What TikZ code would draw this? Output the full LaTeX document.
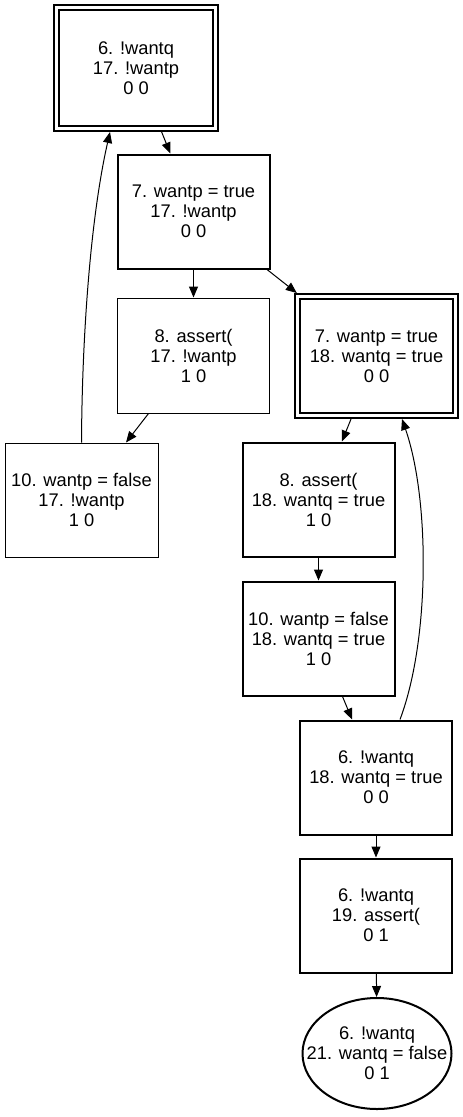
\documentclass[tikz,border=0pt]{standalone}
\usepackage{fontspec}
\setmainfont{Liberation Sans}
\usetikzlibrary{arrows.meta,shapes.geometric}
\begin{document}
\begin{tikzpicture}[x=1pt,y=-1pt,
  box/.style={draw, rectangle, inner sep=0pt, align=center, font=\fontsize{18.3}{20}\selectfont},
  thinbox/.style={box, line width=1pt, minimum width=152pt, minimum height=114pt},
  boldbox/.style={box, line width=2pt, minimum width=152pt, minimum height=114pt},
  dblbox/.style={box, line width=2pt, double, double distance=3pt, outer sep=3.5pt},
  ovalbox/.style={draw, ellipse, line width=2pt, inner xsep=-20pt, inner ysep=0pt, align=center, font=\fontsize{18.3}{20}\selectfont},
  edge/.style={-{Triangle[length=11pt,width=9pt]}, line width=1pt}]
\useasboundingbox (0,0) rectangle (463,1117);

\node[dblbox, minimum width=159pt, minimum height=121pt] (A) at (136,68) {6. !wantq\\17. !wantp\\0 0};
\node[boldbox] (B) at (193.5,211.5) {7. wantp = true\\17. !wantp\\0 0};
\node[thinbox, minimum height=115pt] (C) at (193.5,355.5) {8. assert(\\17. !wantp\\1 0};
\node[thinbox, minimum width=153pt] (D) at (81.5,500) {10. wantp = false\\17. !wantp\\1 0};
\node[dblbox, minimum width=158pt, minimum height=119pt] (E) at (376.5,356) {7. wantp = true\\18. wantq = true\\0 0};
\node[boldbox] (F) at (318.5,499.5) {8. assert(\\18. wantq = true\\1 0};
\node[boldbox] (G) at (318.5,638.5) {10. wantp = false\\18. wantq = true\\1 0};
\node[boldbox] (H) at (376,777.5) {6. !wantq\\18. wantq = true\\0 0};
\node[boldbox] (I) at (376,915.5) {6. !wantq\\19. assert(\\0 1};
\node[ovalbox, minimum width=149pt, minimum height=111pt] (J) at (377,1053.5) {6. !wantq\\21. wantq = false\\0 1};

\draw[edge] (A) -- (B);
\draw[edge] (B) -- (C);
\draw[edge] (B) -- (E);
\draw[edge] (C) -- (D);
\draw[edge] (D.north) .. controls (82,340) and (90,220) .. ([xshift=-26pt]A.south);
\draw[edge] (E) -- (F);
\draw[edge] (F) -- (G);
\draw[edge] (G) -- (H);
\draw[edge] ([xshift=24pt]H.north) .. controls (430,640) and (430,500) .. ([xshift=25.5pt]E.south);
\draw[edge] (H) -- (I);
\draw[edge] (I) -- (J);
\end{tikzpicture}
\end{document}
